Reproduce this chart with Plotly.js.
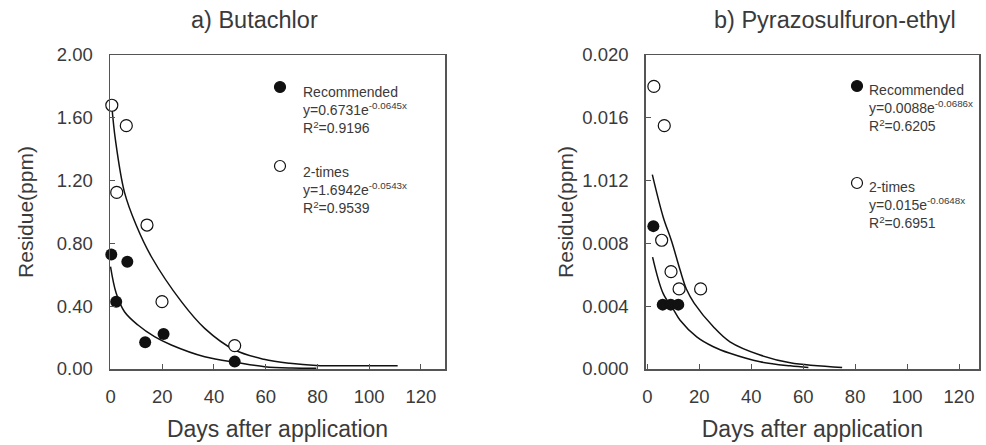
<!DOCTYPE html>
<html><head><meta charset="utf-8">
<script src="https://cdn.plot.ly/plotly-3.0.1.min.js"></script>
<style>html,body{margin:0;padding:0;background:#fff}#chart{width:986px;height:445px}</style>
</head><body><div id="chart"></div>
<script>
// ---- Data ----
const panelTitles = ["a) Butachlor", "b) Pyrazosulfuron-ethyl"];
const xTickVals = [0, 20, 40, 60, 80, 100, 120];
const yTickValsA = [0, 0.4, 0.8, 1.2, 1.6, 2.0];
const yTickTextA = ["0.00", "0.40", "0.80", "1.20", "1.60", "2.00"];
const yTickValsB = [0, 0.004, 0.008, 0.012, 0.016, 0.020];
const yTickTextB = ["0.000", "0.004", "0.008", "1.012", "0.016", "0.020"];

// a) Butachlor – observed points
const daysA_rec = [0.3, 2.2, 6.5, 13.4, 20.5, 48];
const resA_rec  = [0.73, 0.429, 0.683, 0.17, 0.223, 0.047];
const daysA_two = [0.5, 2.4, 6.1, 14.1, 19.9, 48];
const resA_two  = [1.68, 1.125, 1.55, 0.917, 0.429, 0.149];
// a) fitted curves as drawn
const curveA_two_x = [0.5, 1.9, 5.4, 9.9, 15.8, 27.4, 36.4, 48, 59.3, 69.3, 79.6, 92.5, 111];
const curveA_two_y = [1.675, 1.459, 1.125, 0.917, 0.715, 0.429, 0.259, 0.121, 0.062, 0.036, 0.022, 0.02, 0.02];
const curveA_rec_x = [0, 2.2, 5.4, 10.6, 17, 23.5, 36.4, 49.3, 59.6, 70, 79.6];
const curveA_rec_y = [0.652, 0.482, 0.365, 0.28, 0.206, 0.153, 0.078, 0.04, 0.015, 0.006, 0.004];

// b) Pyrazosulfuron-ethyl – observed points
const daysB_rec = [2.3, 5.9, 9.0, 11.9];
const resB_rec  = [0.0091, 0.0041, 0.0041, 0.0041];
const daysB_two = [2.5, 5.5, 6.5, 9.1, 12.2, 20.5];
const resB_two  = [0.0180, 0.0082, 0.0155, 0.0062, 0.0051, 0.0051];
// b) fitted curves as drawn
const curveB_two_x = [1.9, 6.1, 9.3, 12.6, 15.1, 18, 25.4, 31.8, 43.4, 55, 75];
const curveB_two_y = [0.01238, 0.00967, 0.00815, 0.0063, 0.00506, 0.0042, 0.00269, 0.00173, 0.00089, 0.0004, 0.0001];
const curveB_rec_x = [2.0, 6.1, 10, 12.6, 19, 25.4, 31.8, 43.4, 55, 62];
const curveB_rec_y = [0.00713, 0.0048, 0.0038, 0.00311, 0.00205, 0.00142, 0.001, 0.00046, 0.0002, 0.0001];

const legendA = [["Recommended", "y=0.6731e<sup>-0.0645x</sup>", "R<sup>2</sup>=0.9196"],
                 ["2-times", "y=1.6942e<sup>-0.0543x</sup>", "R<sup>2</sup>=0.9539"]];
const legendB = [["Recommended", "y=0.0088e<sup>-0.0686x</sup>", "R<sup>2</sup>=0.6205"],
                 ["2-times", "y=0.015e<sup>-0.0648x</sup>", "R<sup>2</sup>=0.6951"]];
const xTitle = "Days after application";
const yTitle = "Residue(ppm)";

// ---- Layout helpers ----
const W = 986, H = 445, ML = 110, MR = 7, MT = 55, MB = 76;
const PW = W - ML - MR, PH = H - MT - MB;
const px = x => (x - ML) / PW;
const py = y => (H - MB - y) / PH;

const FONT = "Liberation Sans, Arial, sans-serif";
const TXT = "#3a3a3a";

function curve(x, y, xa, ya) {
  return {x, y, xaxis: xa, yaxis: ya, mode: "lines", type: "scatter",
    line: {color: "#111", width: 1.5, shape: "spline", smoothing: 1}, hoverinfo: "skip"};
}
function pts(x, y, xa, ya, filled) {
  return {x, y, xaxis: xa, yaxis: ya, mode: "markers", type: "scatter", cliponaxis: false,
    marker: filled ? {color: "#111", size: 12, line: {color: "#111", width: 0}}
                   : {color: "#fff", size: 12, line: {color: "#111", width: 1.2}}};
}

const data = [
  curve(curveA_two_x, curveA_two_y, "x", "y"),
  curve(curveA_rec_x, curveA_rec_y, "x", "y"),
  pts(daysA_two, resA_two, "x", "y", false),
  pts(daysA_rec, resA_rec, "x", "y", true),
  curve(curveB_two_x, curveB_two_y, "x2", "y2"),
  curve(curveB_rec_x, curveB_rec_y, "x2", "y2"),
  pts(daysB_two, resB_two, "x2", "y2", false),
  pts(daysB_rec, resB_rec, "x2", "y2", true)
];

function xAxis(domain, range, anchor) {
  return {domain, range, anchor, tickvals: xTickVals, ticks: "inside", ticklen: 5, tickcolor: "#555",
    showline: true, linecolor: "#555", linewidth: 1.5, mirror: true, showgrid: false, zeroline: false,
    tickfont: {size: 18.5, color: TXT}, ticklabelstandoff: 10,
    title: {text: xTitle, font: {size: 23, color: TXT}, standoff: 15}};
}
function yAxis(range, vals, text, anchor, standoff) {
  return {domain: [0, 1], range, anchor, tickvals: vals, ticktext: text, ticks: "inside", ticklen: 5, tickcolor: "#555",
    showline: true, linecolor: "#555", linewidth: 1.5, mirror: true, showgrid: false, zeroline: false,
    tickfont: {size: 18.5, color: TXT}, ticklabelstandoff: 12,
    title: {text: yTitle, font: {size: 21, color: TXT}, standoff}};
}

const annotations = [];
const shapes = [];
function title(t, cx) {
  annotations.push({text: t, xref: "paper", yref: "paper", x: px(cx), y: py(20), xanchor: "center", yanchor: "middle",
    showarrow: false, font: {size: 23.5, color: TXT}});
}
title(panelTitles[0], 254);
title(panelTitles[1], 835);

function legend(block, mx, tx, my, ty, filled) {
  shapes.push({type: "circle", xref: "paper", yref: "paper",
    x0: px(mx - 5.5), x1: px(mx + 5.5), y0: py(my + 5.5), y1: py(my - 5.5),
    fillcolor: filled ? "#111" : "#fff", line: {color: "#111", width: 1.2}});
  annotations.push({text: block.join("<br>"), xref: "paper", yref: "paper", x: px(tx), y: py(ty),
    xanchor: "left", yanchor: "top", align: "left", showarrow: false, font: {size: 14, color: TXT}});
}
legend(legendA[0], 280, 301, 87, 82, true);
legend(legendA[1], 280, 301, 166, 162, false);
legend(legendB[0], 857, 867, 86, 80, true);
legend(legendB[1], 857, 867, 183, 177, false);

const layout = {
  width: W, height: H, margin: {l: ML, r: MR, t: MT, b: MB},
  paper_bgcolor: "#fff", plot_bgcolor: "#fff", showlegend: false,
  font: {family: FONT, color: TXT},
  xaxis: xAxis([0, px(445)], [-0.2, 129.3], "y"),
  yaxis: yAxis([0, 2.0], yTickValsA, yTickTextA, "x", 17),
  xaxis2: xAxis([px(645.7), 1], [-0.65, 127.7], "y2"),
  yaxis2: yAxis([0, 0.020], yTickValsB, yTickTextB, "x2", 3),
  annotations, shapes
};
Plotly.newPlot("chart", data, layout, {displayModeBar: false, staticPlot: true});
</script></body></html>
